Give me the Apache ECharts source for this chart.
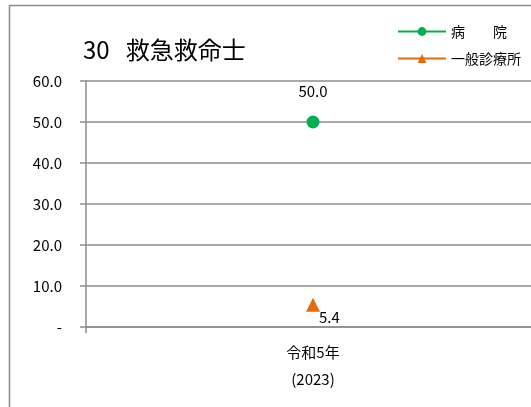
<!DOCTYPE html>
<html>
<head>
<meta charset="utf-8">
<script src="https://cdn.jsdelivr.net/npm/echarts@6/dist/echarts.min.js"></script>
<style>
html, body { margin: 0; padding: 0; background: #fff; }
#main { width: 531px; height: 407px; }
</style>
</head>
<body>
<div id="main"></div>
<script>
// data
const categories = ['令和5年\n(2023)']
const hospital = [50.0]
const clinic = [5.4]
const seriesNames = ['病　　院', '一般診療所']

const font = '"Noto Sans CJK JP", "Noto Sans", sans-serif'

let chart = echarts.init(document.getElementById('main'))
chart.setOption({
  animation: false,
  textStyle: { fontFamily: font },
  title: {
    text: '30   救急救命士',
    left: 78,
    top: 33,
    textStyle: { fontSize: 24, fontWeight: 'normal', color: '#000', fontFamily: font }
  },
  graphic: [
    {
      type: 'rect',
      shape: { x: 9.5, y: 5.5, width: 540, height: 420 },
      style: { fill: 'none', stroke: '#8c8c8c', lineWidth: 1.5 },
      silent: true
    }
  ],
  legend: {
    orient: 'vertical',
    left: 392,
    top: 17,
    itemGap: 8,
    itemWidth: 48,
    itemHeight: 11,
    textStyle: { fontSize: 14, color: '#000', lineHeight: 19 },
    data: seriesNames
  },
  grid: { left: 86, width: 454, top: 81, bottom: 80, outerBoundsMode: 'none' },
  xAxis: {
    type: 'category',
    data: categories,
    axisLine: { lineStyle: { color: '#8c8c8c', width: 1.5 } },
    axisTick: { show: true, length: 6, lineStyle: { color: '#8c8c8c', width: 1.5 } },
    axisLabel: { fontSize: 15, color: '#000', lineHeight: 27, margin: 12 }
  },
  yAxis: {
    type: 'value',
    min: 0,
    max: 60,
    interval: 10,
    axisLine: { show: true, lineStyle: { color: '#8c8c8c', width: 1.5 } },
    axisTick: { show: true, length: 6, lineStyle: { color: '#8c8c8c', width: 1.5 } },
    splitLine: { lineStyle: { color: '#8c8c8c', width: 1.5 } },
    axisLabel: {
      fontSize: 15,
      color: '#000',
      margin: 24,
      formatter: function (v) { return v === 0 ? '-' : v.toFixed(1) }
    }
  },
  series: [
    {
      name: seriesNames[0],
      type: 'line',
      data: hospital,
      symbol: 'circle',
      symbolSize: 13,
      itemStyle: { color: '#00b050' },
      lineStyle: { color: '#00b050', width: 2.5 },
      label: {
        show: true,
        position: 'top',
        distance: 17,
        fontSize: 15,
        color: '#000',
        formatter: function (p) { return p.value.toFixed(1) }
      }
    },
    {
      name: seriesNames[1],
      type: 'line',
      data: clinic,
      symbol: 'triangle',
      symbolSize: 14,
      itemStyle: { color: '#e46c0a' },
      lineStyle: { color: '#e46c0a', width: 2.5 },
      label: {
        show: true,
        position: 'right',
        offset: [-6, 12],
        fontSize: 15,
        color: '#000',
        formatter: function (p) { return p.value.toFixed(1) }
      }
    }
  ]
})
</script>
</body>
</html>
